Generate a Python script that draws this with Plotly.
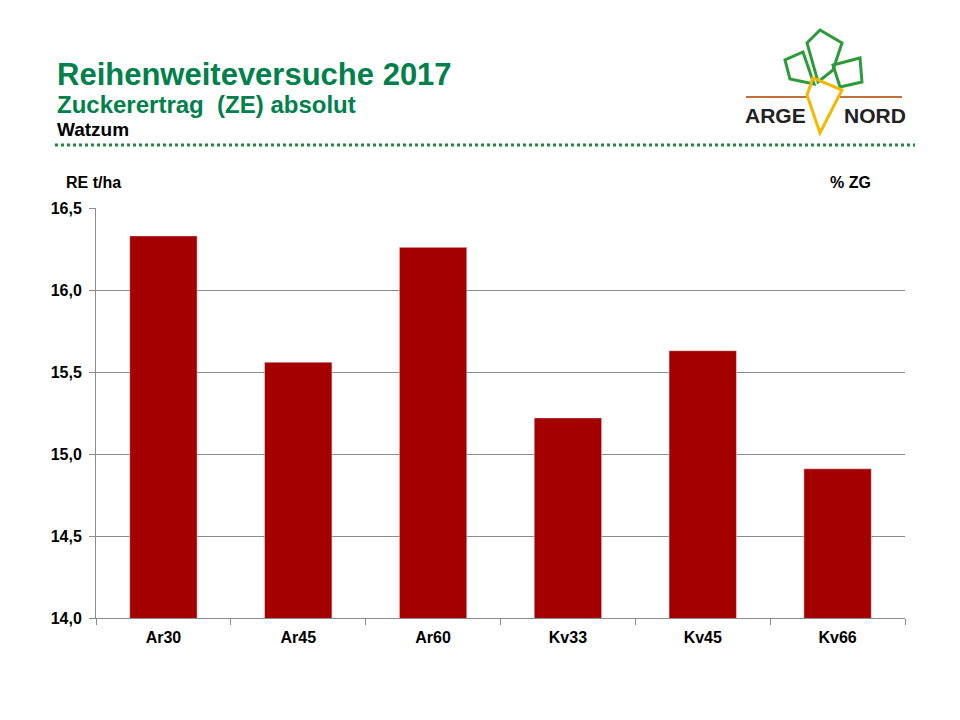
import plotly.graph_objects as go

# values
sorten = ["Ar30", "Ar45", "Ar60", "Kv33", "Kv45", "Kv66"]
ertrag = [16.33, 15.56, 16.26, 15.22, 15.63, 14.91]
y_ticks = [14.0, 14.5, 15.0, 15.5, 16.0, 16.5]

OFF = 8  # page body margin
W, H = 950, 710
L, R, T, B = 96, 905, 208, 618  # plot area on screen


def px(x, y):
    # screen pixel -> paper coords
    return (x - L) / (R - L), (B - y) / (B - T)


def poly(points):
    p = [px(x, y) for x, y in points]
    return "M " + " L ".join(f"{a:.4f},{b:.4f}" for a, b in p) + " Z"


green = "#00804A"
fnt = "Liberation Sans, Arial"
fig = go.Figure()
fig.add_trace(go.Bar(x=sorten, y=ertrag, marker_color="#A50000", width=0.5))

shapes = []
# dotted separator
x0, y0 = px(55, 145)
x1, _ = px(915, 145)
shapes.append(dict(type="line", xref="paper", yref="paper", x0=x0, y0=y0, x1=x1, y1=y0,
                   line=dict(color="#1E8A3C", width=3, dash="dot")))

# logo (rough)
for a, b in [(746, 807), (840, 902)]:
    xa, ya = px(a, 97)
    xb, _ = px(b, 97)
    shapes.append(dict(type="line", xref="paper", yref="paper", x0=xa, y0=ya, x1=xb, y1=ya,
                       line=dict(color="#C0703A", width=2)))
leaves = [
    [(785, 60), (803, 52), (814, 84), (790, 79)],
    [(820, 30), (842, 43), (833, 70), (818, 82), (807, 43)],
    [(833, 65), (860, 58), (862, 82), (840, 87)],
]
for lf in leaves:
    shapes.append(dict(type="path", xref="paper", yref="paper", path=poly(lf),
                       line=dict(color="#2E9B3A", width=3)))
shapes.append(dict(type="path", xref="paper", yref="paper",
                   path=poly([(813, 78), (842, 90), (820, 133), (807, 95)]),
                   line=dict(color="#F5B800", width=3)))

ann = []


def txt(x, y, s, size, color, anchor="left"):
    xx, yy = px(x, y)
    ann.append(dict(x=xx, y=yy, xref="paper", yref="paper", text=s, showarrow=False,
                    xanchor=anchor, yanchor="middle",
                    font=dict(family=fnt, size=size, color=color)))


txt(55, 75, "<b>Reihenweiteversuche 2017</b>", 31, green)
txt(55, 104, "<b>Zuckerertrag  (ZE) absolut</b>", 24, green)
txt(55, 129, "<b>Watzum</b>", 19, "#000000")
txt(64, 183, "<b>RE t/ha</b>", 16, "#000000")
txt(828, 183, "<b>% ZG</b>", 16, "#000000")
txt(743, 115, "<b>ARGE</b>", 21, "#222222")
txt(842, 115, "<b>NORD</b>", 21, "#222222")

fig.update_layout(
    width=W, height=H,
    margin=dict(l=L - OFF, r=W - (R - OFF), t=T - OFF, b=H - (B - OFF)),
    plot_bgcolor="white", paper_bgcolor="white",
    showlegend=False,
    separators=",.",
    bargap=0.5,
    shapes=shapes,
    annotations=ann,
    font=dict(family=fnt, color="#000000"),
)
fig.update_yaxes(range=[14, 16.5], tickvals=y_ticks, tickformat=".1f",
                 showgrid=True, gridcolor="#8C8C8C", gridwidth=1,
                 showline=True, linecolor="#8C8C8C", ticks="outside", ticklen=6,
                 tickcolor="#8C8C8C", ticklabelstandoff=4,
                 tickfont=dict(size=16, family=fnt, weight="bold"),
                 zeroline=False)
fig.update_xaxes(showline=True, linecolor="#8C8C8C", ticks="outside", ticklen=6,
                 tickcolor="#8C8C8C", tickson="boundaries", ticklabelstandoff=5,
                 tickfont=dict(size=16, family=fnt, weight="bold"))

fig.write_html("out.html")
